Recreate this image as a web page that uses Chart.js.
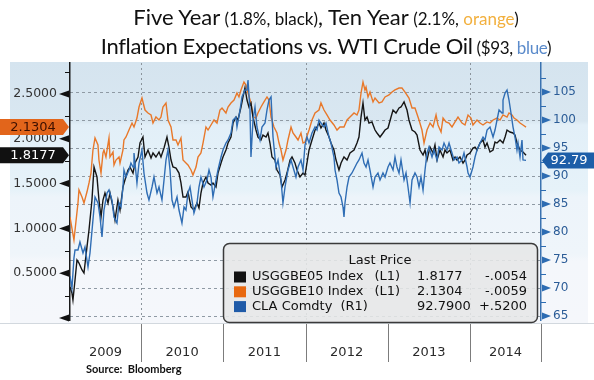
<!DOCTYPE html>
<html>
<head>
<meta charset="utf-8">
<script src="https://cdn.jsdelivr.net/npm/chart.js@4.4.1/dist/chart.umd.min.js"></script>
<style>
  html, body { margin: 0; padding: 0; background: #fff; }
  #wrap { position: relative; width: 594px; height: 380px; overflow: hidden; }
  #chart { position: absolute; left: 0; top: 0; }
  #title { position: absolute; left: 58px; width: 536px; top: 3px; text-align: center;
           font-family: Lato, sans-serif; color: #111; line-height: 27px; white-space: nowrap; }
  #title .big { font-size: 22px; }
  #title .small { font-size: 17px; }
  #title .l2 { letter-spacing: -0.35px; }
  #source { position: absolute; left: 86px; top: 362px; font-family: Lato, sans-serif;
            font-weight: bold; font-size: 11px; color: #111; }
</style>
</head>
<body>
<div id="wrap">
  <canvas id="chart" width="594" height="380"></canvas>
  <div id="title">
    <div><span class="big">Five Year</span><span class="small"> (1.8%, black)</span><span class="big">, Ten Year</span><span class="small"> (2.1%, <span style="color:#f2b03e">orange</span>)</span></div>
    <div class="l2"><span class="big">Inflation Expectations vs. WTI Crude Oil</span><span class="small"> ($93, <span style="color:#5b8bcb">blue</span>)</span></div>
  </div>
  <div id="source">Source:&nbsp; Bloomberg</div>
</div>
<script>
// x axis: fractional years
const yearLabels = ['2009', '2010', '2011', '2012', '2013', '2014'];
const xMin = 2009.137, xMax = 2014.863;

// left axis ticks (breakevens, %) and right axis ticks (WTI, $)
const leftTicks = [0, 0.25, 0.5, 0.75, 1, 1.25, 1.5, 1.75, 2, 2.25, 2.5, 2.75];
const rightTicks = [65, 67.5, 70, 72.5, 75, 77.5, 80, 82.5, 85, 87.5, 90, 92.5, 95, 97.5, 100, 102.5, 105, 107.5];

// USGGBE05 - five year breakeven
const fiveYearDates = [
  2009.137,2009.161,2009.173,2009.198,2009.222,2009.246,2009.283,2009.307,2009.343,2009.368,2009.404,2009.429,2009.465,2009.489,2009.514,2009.538,2009.562,2009.599,2009.623,2009.660,2009.684,2009.720,2009.745,2009.781,2009.805,2009.842,2009.866,2009.903,2009.927,2009.964,2009.988,
  2010.024,2010.049,2010.085,2010.122,2010.146,2010.182,2010.219,2010.243,2010.280,2010.316,2010.340,2010.365,2010.389,2010.426,2010.462,2010.486,2010.511,2010.547,2010.571,2010.608,2010.644,2010.681,2010.705,2010.729,2010.754,2010.790,2010.815,2010.851,2010.875,2010.912,2010.936,2010.973,2010.997,
  2011.033,2011.058,2011.094,2011.119,2011.155,2011.179,2011.216,2011.240,2011.264,2011.289,2011.313,2011.337,2011.362,2011.398,2011.422,2011.459,2011.483,2011.520,2011.544,2011.568,2011.593,2011.629,2011.653,2011.690,2011.714,2011.751,2011.775,2011.812,2011.836,2011.872,2011.897,2011.933,2011.970,2011.994,
  2012.018,2012.043,2012.079,2012.116,2012.140,2012.164,2012.188,2012.225,2012.249,2012.286,2012.310,2012.346,2012.371,2012.407,2012.432,2012.468,2012.505,2012.541,2012.590,2012.626,2012.650,2012.675,2012.699,2012.723,2012.748,2012.772,2012.808,2012.845,2012.869,2012.906,2012.942,2012.967,
  2013.003,2013.040,2013.064,2013.100,2013.137,2013.161,2013.198,2013.234,2013.258,2013.295,2013.331,2013.356,2013.392,2013.429,2013.453,2013.477,2013.514,2013.550,2013.574,2013.599,2013.635,2013.672,2013.696,2013.720,2013.757,2013.793,2013.818,2013.842,2013.878,2013.915,2013.939,2013.964,
  2014.000,2014.036,2014.061,2014.085,2014.122,2014.158,2014.182,2014.207,2014.243,2014.280,2014.304,2014.328,2014.365,2014.401,2014.426,2014.450,2014.486,2014.523,2014.547,2014.571,2014.608,2014.644,2014.681
];
const fiveYearValues = [
  0.346,0.279,0.201,0.424,0.647,0.614,0.536,0.502,0.792,0.982,1.317,1.685,1.574,1.317,1.127,1.317,1.395,1.283,1.395,1.239,1.094,1.317,1.205,1.462,1.540,1.652,1.685,1.618,1.730,1.797,1.953,
  2.020,1.797,1.875,1.786,1.842,1.797,1.853,1.797,1.897,2.020,1.908,1.763,1.685,1.674,1.618,1.507,1.350,1.350,1.406,1.239,1.205,1.283,1.228,1.395,1.507,1.574,1.507,1.484,1.507,1.462,1.618,1.730,1.797,
  1.875,1.953,2.020,2.176,2.243,2.210,2.355,2.467,2.567,2.433,2.355,2.400,2.243,2.098,2.020,1.987,2.042,2.020,2.065,1.953,1.797,1.763,1.652,1.596,1.462,1.540,1.618,1.763,1.797,1.730,1.652,1.574,1.618,1.596,
  1.730,1.875,1.987,2.098,2.132,2.176,2.121,2.176,2.098,2.020,1.953,1.875,1.763,1.652,1.730,1.797,1.763,1.842,1.875,1.953,2.020,2.243,2.400,2.210,2.243,2.176,2.188,2.098,2.065,2.020,2.065,2.098,
  2.121,2.243,2.321,2.288,2.344,2.355,2.411,2.321,2.210,2.098,2.076,2.042,1.875,1.819,1.875,1.763,1.908,1.842,1.931,1.763,1.875,1.797,1.875,1.842,1.875,1.763,1.797,1.763,1.797,1.730,1.763,1.819,
  1.842,1.897,1.908,1.875,1.953,1.987,1.908,1.953,1.853,1.875,1.964,1.953,1.987,1.953,2.020,2.098,2.076,2.065,2.042,1.953,1.875,1.853,1.8177
];

// USGGBE10 - ten year breakeven
const tenYearDates = [
  2009.137,2009.185,2009.234,2009.246,2009.283,2009.307,2009.343,2009.368,2009.392,2009.416,2009.441,2009.477,2009.489,2009.514,2009.538,2009.550,2009.574,2009.611,2009.623,2009.660,2009.672,2009.696,2009.733,2009.745,2009.781,2009.793,2009.818,2009.854,2009.891,2009.915,2009.951,2009.976,
  2010.012,2010.024,2010.049,2010.085,2010.122,2010.146,2010.182,2010.219,2010.243,2010.267,2010.304,2010.328,2010.365,2010.389,2010.426,2010.450,2010.486,2010.511,2010.547,2010.571,2010.608,2010.632,2010.669,2010.693,2010.729,2010.754,2010.790,2010.815,2010.851,2010.888,2010.924,2010.960,2010.985,
  2011.033,2011.058,2011.094,2011.131,2011.167,2011.191,2011.216,2011.252,2011.277,2011.301,2011.337,2011.362,2011.398,2011.422,2011.459,2011.495,2011.532,2011.556,2011.581,2011.617,2011.653,2011.678,2011.702,2011.726,2011.763,2011.787,2011.824,2011.848,2011.884,2011.909,2011.945,2011.970,2011.994,
  2012.043,2012.079,2012.116,2012.164,2012.188,2012.225,2012.261,2012.298,2012.346,2012.383,2012.419,2012.468,2012.505,2012.541,2012.590,2012.626,2012.650,2012.675,2012.699,2012.723,2012.736,2012.760,2012.784,2012.821,2012.845,2012.894,2012.930,2012.967,
  2013.015,2013.052,2013.088,2013.137,2013.173,2013.210,2013.258,2013.295,2013.331,2013.380,2013.416,2013.441,2013.477,2013.514,2013.550,2013.587,2013.611,2013.648,2013.672,2013.708,2013.745,2013.781,2013.818,2013.854,2013.903,2013.939,2013.976,
  2014.012,2014.036,2014.085,2014.122,2014.158,2014.207,2014.243,2014.280,2014.328,2014.365,2014.401,2014.450,2014.474,2014.511,2014.535,2014.571,2014.608,2014.644,2014.681
];
const tenYearValues = [
  1.127,0.871,1.283,1.429,1.350,1.283,1.406,1.507,1.618,1.875,2.009,1.931,1.763,1.618,1.842,1.875,1.797,2.009,1.797,1.853,1.708,1.763,1.797,1.730,1.875,1.987,2.020,2.098,2.176,2.132,2.232,2.355,
  2.455,2.411,2.321,2.288,2.266,2.176,2.243,2.210,2.243,2.355,2.400,2.210,2.132,1.987,1.987,1.931,2.009,1.763,1.730,1.708,1.652,1.596,1.685,1.797,1.842,1.953,2.132,2.098,2.154,2.210,2.176,2.321,2.344,
  2.288,2.355,2.400,2.433,2.511,2.467,2.545,2.634,2.600,2.511,2.400,2.243,2.232,2.288,2.355,2.411,2.467,2.433,2.243,2.132,2.065,1.953,1.875,1.763,1.875,1.987,2.132,2.065,2.020,1.987,2.065,1.953,1.964,
  2.098,2.210,2.288,2.321,2.400,2.321,2.266,2.210,2.154,2.098,2.132,2.132,2.210,2.243,2.288,2.266,2.321,2.511,2.634,2.545,2.578,2.467,2.522,2.411,2.455,2.400,2.411,2.467,
  2.489,2.522,2.545,2.567,2.567,2.522,2.455,2.344,2.344,2.210,2.098,1.953,2.098,2.176,2.132,2.266,2.154,2.076,2.232,2.188,2.176,2.132,2.188,2.243,2.176,2.154,2.266,
  2.232,2.154,2.210,2.176,2.154,2.188,2.176,2.210,2.232,2.210,2.266,2.243,2.288,2.266,2.232,2.210,2.176,2.154,2.1304
];

// CLA Comdty - WTI crude, right axis
const wtiDates = [
  2009.137,2009.161,2009.185,2009.198,2009.234,2009.258,2009.295,2009.319,2009.356,2009.380,2009.416,2009.441,2009.477,2009.502,2009.526,2009.550,2009.587,2009.611,2009.647,2009.672,2009.708,2009.733,2009.757,2009.781,2009.793,2009.818,2009.854,2009.878,2009.903,2009.915,2009.951,2009.976,
  2010.012,2010.036,2010.073,2010.097,2010.134,2010.158,2010.195,2010.219,2010.255,2010.280,2010.304,2010.328,2010.353,2010.377,2010.401,2010.438,2010.462,2010.498,2010.523,2010.547,2010.571,2010.596,2010.620,2010.644,2010.681,2010.705,2010.729,2010.766,2010.802,2010.827,2010.851,2010.875,2010.912,2010.936,2010.973,2010.997,
  2011.033,2011.058,2011.094,2011.119,2011.155,2011.167,2011.204,2011.228,2011.264,2011.289,2011.301,2011.325,2011.337,2011.362,2011.386,2011.410,2011.447,2011.471,2011.508,2011.532,2011.556,2011.581,2011.605,2011.641,2011.666,2011.702,2011.726,2011.751,2011.787,2011.824,2011.848,2011.884,2011.909,2011.945,2011.970,2011.994,
  2012.018,2012.043,2012.079,2012.116,2012.140,2012.164,2012.188,2012.225,2012.249,2012.286,2012.310,2012.346,2012.359,2012.383,2012.407,2012.432,2012.456,2012.468,2012.480,2012.505,2012.529,2012.565,2012.602,2012.626,2012.650,2012.687,2012.711,2012.736,2012.760,2012.784,2012.821,2012.845,2012.881,2012.906,2012.942,2012.967,
  2013.003,2013.027,2013.064,2013.088,2013.112,2013.137,2013.161,2013.198,2013.222,2013.246,2013.271,2013.295,2013.331,2013.356,2013.380,2013.404,2013.416,2013.429,2013.453,2013.477,2013.501,2013.538,2013.562,2013.599,2013.623,2013.660,2013.684,2013.720,2013.745,2013.781,2013.806,2013.842,2013.866,2013.903,2013.927,2013.964,2013.976,
  2014.000,2014.036,2014.061,2014.085,2014.122,2014.158,2014.182,2014.207,2014.243,2014.280,2014.304,2014.328,2014.353,2014.389,2014.401,2014.426,2014.450,2014.474,2014.498,2014.523,2014.547,2014.571,2014.584,2014.608,2014.632,2014.644,2014.681
];
const wtiValues = [
  72.14,70.00,75.36,76.79,76.79,78.21,76.25,77.32,73.75,76.25,82.14,86.25,85.18,82.68,79.11,83.93,86.96,87.50,85.71,82.68,81.61,85.18,84.46,88.04,91.07,89.82,91.07,92.32,91.61,94.11,88.75,92.32,
  94.64,90.54,86.96,85.71,88.04,89.82,86.96,88.04,85.71,89.29,92.86,94.64,91.07,85.71,84.46,86.25,83.93,81.61,84.46,83.93,86.96,88.04,85.71,83.39,85.18,88.04,89.82,88.04,89.29,91.07,89.82,86.25,89.29,91.07,93.39,94.64,
  95.89,96.43,97.68,100.00,100.54,98.75,101.79,104.11,105.36,105.36,107.14,101.79,93.39,100.00,102.32,98.75,96.43,98.75,99.46,101.79,103.57,104.11,96.96,91.61,92.86,89.29,85.18,88.04,91.07,92.86,91.61,89.82,91.61,92.86,91.07,95.54,
  96.96,95.89,97.68,98.75,98.21,100.00,99.46,98.75,99.46,96.96,95.89,93.39,91.07,89.29,86.96,86.25,84.46,82.68,85.18,88.04,89.82,90.54,91.61,92.32,92.86,94.11,92.32,91.61,92.86,91.07,88.04,89.82,90.54,89.29,90.54,89.82,
  91.61,92.32,91.07,93.39,91.61,90.54,92.86,89.29,90.54,88.04,85.18,89.29,90.54,89.82,88.04,89.82,88.75,87.50,91.07,94.11,95.18,93.39,94.64,92.86,95.18,94.64,95.89,94.64,95.89,94.11,92.86,93.39,92.32,92.86,94.11,91.61,90.54,
  89.82,91.61,93.39,94.64,95.89,96.96,96.43,98.21,98.75,96.96,98.21,100.00,101.79,101.25,103.57,104.82,105.36,103.57,101.25,98.75,96.96,94.64,95.89,93.39,96.43,92.86,92.79
];

// legend table ("Last Price")
const legendNames = ['USGGBE05 Index', 'USGGBE10 Index', 'CLA Comdty'];
const legendTags = ['(L1)', '(L1)', '(R1)'];
const lastPrices = ['1.8177', '2.1304', '92.7900'];
const priceChanges = ['-.0054', '-.0059', '+.5200'];
const legendColors = ['#111111', '#e8680f', '#1f5ba8'];

// value flags on the axes
const flagFive = 1.8177, flagTen = 2.1304, flagWti = 92.79;

const pts = (xs, ys) => xs.map((x, i) => ({x: x, y: ys[i]}));

const decor = {
  id: 'decor',
  beforeDraw(chart) {
    const {ctx, scales: {x}} = chart;
    ctx.save();
    ctx.fillStyle = '#fff';
    ctx.fillRect(0, 0, chart.width, chart.height);
    // banded blue panel (Bloomberg style)
    const top = 62, bottom = 323;
    const g = ctx.createLinearGradient(0, top, 0, bottom);
    const at = y => (y - top) / (bottom - top);
    g.addColorStop(0, '#d5e4ef');
    g.addColorStop(at(121), '#d9e7f1');
    g.addColorStop(at(125), '#e2eff8');
    g.addColorStop(at(190), '#e6f2f9');
    g.addColorStop(at(197), '#edf4fa');
    g.addColorStop(at(254), '#eff5fa');
    g.addColorStop(at(261), '#f4f7fb');
    g.addColorStop(1, '#f5f7fb');
    ctx.fillStyle = g;
    ctx.fillRect(10, top, 578, bottom - top);
    // line under the panel
    ctx.strokeStyle = '#d2d8de';
    ctx.lineWidth = 1;
    ctx.beginPath(); ctx.moveTo(0, 323.5); ctx.lineTo(594, 323.5); ctx.stroke();
    // year separators below the axis
    ctx.strokeStyle = '#7c7c7c';
    [2010, 2011, 2012, 2013, 2014, xMax].forEach(v => {
      const px = Math.round(x.getPixelForValue(v)) + 0.5;
      ctx.beginPath(); ctx.moveTo(px, 324); ctx.lineTo(px, 362); ctx.stroke();
    });
    ctx.restore();
  },
  beforeDatasetsDraw(chart) {
    const {ctx, chartArea: a, scales: {x}} = chart;
    ctx.save();
    ctx.strokeStyle = '#8b949c';
    ctx.lineWidth = 1;
    ctx.setLineDash([2, 3]);
    [2010, 2012, 2014].forEach(v => {
      const px = Math.round(x.getPixelForValue(v)) + 0.5;
      ctx.beginPath(); ctx.moveTo(px, a.top); ctx.lineTo(px, a.bottom); ctx.stroke();
    });
    ctx.restore();
  },
  afterDraw(chart) {
    const {ctx, scales: {yLeft, yRight}} = chart;
    ctx.save();

    // tick markers: triangles at major ticks, short dashes at minor ones
    yLeft.ticks.forEach(t => {
      const y = yLeft.getPixelForValue(t.value);
      const ax = yLeft.right;
      ctx.fillStyle = '#111'; ctx.strokeStyle = '#111'; ctx.lineWidth = 1;
      if (Math.abs(t.value * 2 - Math.round(t.value * 2)) < 1e-6) {
        ctx.beginPath(); ctx.moveTo(ax - 11, y); ctx.lineTo(ax - 1, y - 3.5); ctx.lineTo(ax - 1, y + 3.5); ctx.closePath(); ctx.fill();
      } else {
        ctx.beginPath(); ctx.moveTo(ax - 5, Math.round(y) + 0.5); ctx.lineTo(ax, Math.round(y) + 0.5); ctx.stroke();
      }
    });
    yRight.ticks.forEach(t => {
      const y = yRight.getPixelForValue(t.value);
      const ax = yRight.left;
      ctx.fillStyle = '#2d6cb2'; ctx.strokeStyle = '#2d6cb2'; ctx.lineWidth = 1;
      if (t.value % 5 === 0) {
        ctx.beginPath(); ctx.moveTo(ax + 10, y); ctx.lineTo(ax + 1, y - 3.5); ctx.lineTo(ax + 1, y + 3.5); ctx.closePath(); ctx.fill();
      } else {
        ctx.beginPath(); ctx.moveTo(ax, Math.round(y) + 0.5); ctx.lineTo(ax + 5, Math.round(y) + 0.5); ctx.stroke();
      }
    });

    // legend table
    const bx = 223, by = 243, bw = 314, bh = 79;
    ctx.beginPath();
    ctx.roundRect(bx + 0.5, by + 0.5, bw, bh, 6);
    ctx.fillStyle = 'rgba(230, 231, 231, 0.88)';
    ctx.fill();
    ctx.strokeStyle = '#3a3a3a';
    ctx.lineWidth = 1.5;
    ctx.stroke();
    ctx.font = '13px "DejaVu Sans"';
    ctx.fillStyle = '#111';
    ctx.textBaseline = 'middle';
    ctx.textAlign = 'center';
    ctx.fillText('Last Price', bx + bw / 2, by + 18);
    legendNames.forEach((name, i) => {
      const ry = by + 34 + i * 14.8;
      ctx.fillStyle = legendColors[i];
      ctx.fillRect(bx + 11, ry - 5.5, 12, 11);
      ctx.fillStyle = '#111';
      ctx.textAlign = 'left';
      ctx.fillText(name, bx + 29, ry);
      ctx.fillText(legendTags[i], bx + 29 + ctx.measureText(name).width + (i < 2 ? 11 : 8), ry);
      ctx.fillText(lastPrices[i], bx + 194, ry);
      ctx.textAlign = 'right';
      ctx.fillText(priceChanges[i], bx + 304, ry);
    });

    // value flags
    ctx.font = '13px "DejaVu Sans"';
    ctx.textAlign = 'center';
    ctx.textBaseline = 'middle';
    const leftFlag = (val, fill, color) => {
      const y = yLeft.getPixelForValue(val);
      ctx.beginPath();
      ctx.moveTo(0, y - 8); ctx.lineTo(63, y - 8); ctx.lineTo(69, y); ctx.lineTo(63, y + 8); ctx.lineTo(0, y + 8);
      ctx.closePath(); ctx.fillStyle = fill; ctx.fill();
      ctx.fillStyle = color; ctx.fillText(val.toFixed(4), 33, y + 0.5);
    };
    leftFlag(flagTen, '#e2651b', '#3d1000');
    leftFlag(flagFive, '#111111', '#ffffff');
    const ry = yRight.getPixelForValue(flagWti);
    const rx = yRight.left;
    ctx.beginPath();
    ctx.moveTo(rx + 1, ry); ctx.lineTo(rx + 7, ry - 8); ctx.lineTo(594, ry - 8); ctx.lineTo(594, ry + 8); ctx.lineTo(rx + 7, ry + 8);
    ctx.closePath(); ctx.fillStyle = '#1d5ea8'; ctx.fill();
    ctx.fillStyle = '#fff';
    ctx.fillText(flagWti.toFixed(2), rx + 28, ry + 0.5);

    ctx.restore();
  }
};

new Chart(document.getElementById('chart'), {
  type: 'line',
  data: {
    datasets: [{
      label: 'CLA Comdty',
      data: pts(wtiDates, wtiValues),
      yAxisID: 'yRight',
      borderColor: '#2f6db4',
      borderWidth: 1.4
    }, {
      label: 'USGGBE05 Index',
      data: pts(fiveYearDates, fiveYearValues),
      yAxisID: 'yLeft',
      borderColor: '#151515',
      borderWidth: 1.4
    }, {
      label: 'USGGBE10 Index',
      data: pts(tenYearDates, tenYearValues),
      yAxisID: 'yLeft',
      borderColor: '#e8782a',
      borderWidth: 1.4
    }]
  },
  options: {
    responsive: false,
    devicePixelRatio: 1,
    animation: false,
    events: [],
    elements: { point: { radius: 0 }, line: { tension: 0 } },
    layout: { padding: { left: 0, right: 0, top: 63, bottom: 18 } },
    plugins: { legend: { display: false }, tooltip: { enabled: false } },
    scales: {
      x: {
        type: 'linear',
        min: xMin,
        max: xMax,
        afterBuildTicks: s => {
          s.ticks = yearLabels.map(y => {
            const lo = Math.max(xMin, +y), hi = Math.min(xMax, +y + 1);
            return { value: (lo + hi) / 2 };
          });
        },
        afterFit: s => { s.height = 42; },
        grid: { display: false },
        border: { display: false },
        ticks: {
          autoSkip: false,
          maxRotation: 0,
          padding: 17,
          color: '#2a2a2a',
          font: { family: 'DejaVu Sans', size: 13 },
          callback: (v, i) => yearLabels[i]
        }
      },
      yLeft: {
        type: 'linear',
        position: 'left',
        min: -0.022,
        max: 2.846,
        afterBuildTicks: s => { s.ticks = leftTicks.map(v => ({ value: v })); },
        afterFit: s => { s.width = 70; },
        grid: { drawOnChartArea: false, drawTicks: true, tickLength: 8, tickColor: 'transparent' },
        border: { color: '#1a1a1a', width: 1.5 },
        ticks: {
          autoSkip: false,
          padding: 5,
          color: '#333',
          font: { family: 'DejaVu Sans', size: 12.5 },
          callback: v => (v > 0 && Math.abs(v * 2 - Math.round(v * 2)) < 1e-6) ? v.toFixed(4) : ''
        }
      },
      yRight: {
        type: 'linear',
        position: 'right',
        min: 64.29,
        max: 110.18,
        afterBuildTicks: s => { s.ticks = rightTicks.map(v => ({ value: v })); },
        afterFit: s => { s.width = 53; },
        grid: {
          drawOnChartArea: true,
          drawTicks: true,
          tickLength: 8,
          tickColor: 'transparent',
          lineWidth: 1,
          color: c => (c.tick && c.tick.value % 5 === 0) ? '#8f9aa4' : 'transparent'
        },
        border: { color: '#3a72b0', width: 1.5, dash: [3, 3] },
        ticks: {
          autoSkip: false,
          padding: 4,
          color: '#2b5c97',
          font: { family: 'DejaVu Sans', size: 12 },
          callback: v => (v % 5 === 0) ? String(v) : ''
        }
      }
    }
  },
  plugins: [decor]
});
</script>
</body>
</html>
